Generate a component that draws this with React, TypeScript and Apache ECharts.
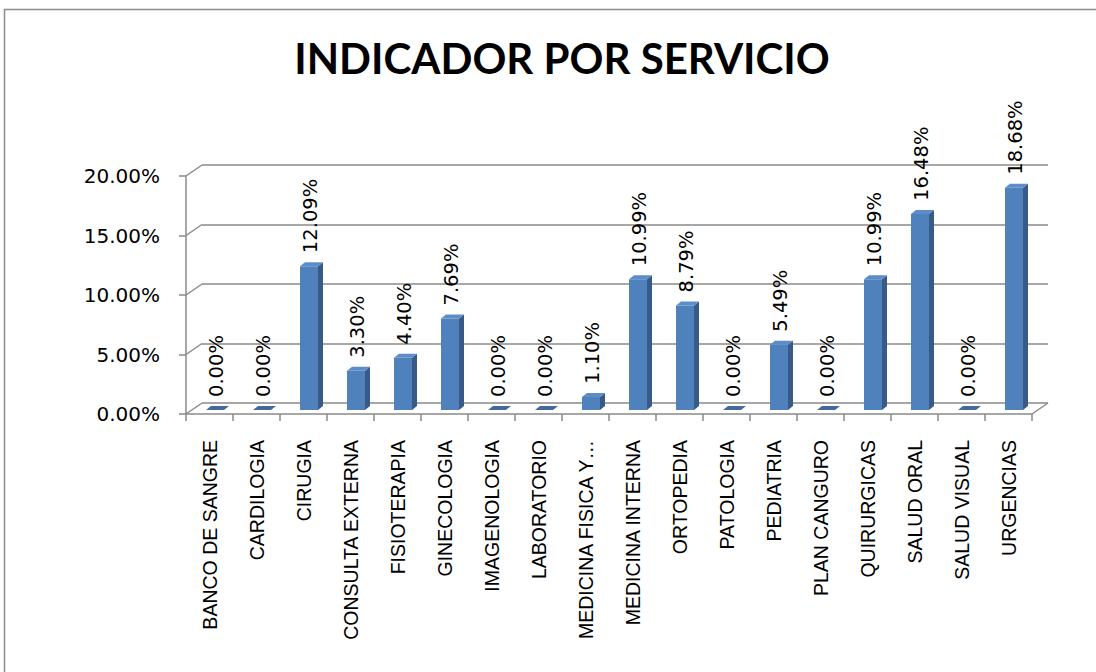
import React, { useEffect, useRef } from "react";
import * as echarts from "echarts";

const categories = [
  "BANCO DE SANGRE",
  "CARDILOGIA",
  "CIRUGIA",
  "CONSULTA EXTERNA",
  "FISIOTERAPIA",
  "GINECOLOGIA",
  "IMAGENOLOGIA",
  "LABORATORIO",
  "MEDICINA FISICA Y…",
  "MEDICINA INTERNA",
  "ORTOPEDIA",
  "PATOLOGIA",
  "PEDIATRIA",
  "PLAN CANGURO",
  "QUIRURGICAS",
  "SALUD ORAL",
  "SALUD VISUAL",
  "URGENCIAS",
];
const values = [0, 0, 12.09, 3.3, 4.4, 7.69, 0, 0, 1.1, 10.99, 8.79, 0, 5.49, 0, 10.99, 16.48, 0, 18.68];
const yTicks = [0, 5, 10, 15, 20];
const titleText = "INDICADOR POR SERVICIO";

const DX = 16;
const DY = 11;

export default function App() {
  const ref = useRef<HTMLDivElement>(null);
  useEffect(() => {
    const chart = echarts.init(ref.current!, null, { renderer: "svg" });
    const gridLeft = 186;
    const gridTop = 176;
    const gridW = 846;
    const gridH = 238;
    const axisColor = "#8a8a8a";
    const fmt = (v: number) => v.toFixed(2) + "%";
    chart.setOption({
      animation: false,
      backgroundColor: "#ffffff",
      graphic: [
        {
          type: "rect",
          shape: { x: 4.5, y: 9.5, width: 1200, height: 800 },
          style: { fill: "none", stroke: "#8c8c8c", lineWidth: 1.5 },
          silent: true,
        },
        {
          type: "text",
          x: 562,
          y: 58,
          style: {
            text: titleText,
            font: "bold 42px Lato, 'Liberation Sans Narrow', sans-serif",
            fill: "#000000",
            align: "center",
            verticalAlign: "middle",
          },
        },
      ],
      grid: [
        { left: gridLeft + DX, top: gridTop - DY, width: gridW, height: gridH },
        { left: gridLeft, top: gridTop, width: gridW, height: gridH },
      ],
      xAxis: [
        {
          type: "category",
          gridIndex: 0,
          data: categories,
          show: false,
        },
        {
          type: "category",
          gridIndex: 1,
          data: categories,
          boundaryGap: true,
          axisLine: { show: true, lineStyle: { color: axisColor, width: 1.5 } },
          axisTick: { show: true, length: 7, lineStyle: { color: axisColor, width: 1.5 } },
          axisLabel: {
            rotate: 90,
            interval: 0,
            margin: 26,
            color: "#000000",
            fontFamily: "'Liberation Sans', Arial, sans-serif",
            fontSize: 19.5,
            padding: [0, 0, 0, 0],
          },
          splitLine: { show: false },
        },
      ],
      yAxis: [
        {
          type: "value",
          gridIndex: 0,
          min: 0,
          max: 20,
          interval: 5,
          axisLine: { show: false },
          axisTick: { show: false },
          axisLabel: { show: false },
          splitLine: { show: true, lineStyle: { color: axisColor, width: 1.5 } },
        },
        {
          type: "value",
          gridIndex: 1,
          min: 0,
          max: 20,
          interval: 5,
          axisLine: { show: true, lineStyle: { color: axisColor, width: 1.5 } },
          axisTick: { show: true, length: 7, lineStyle: { color: axisColor, width: 1.5 } },
          axisLabel: {
            formatter: fmt,
            margin: 26,
            color: "#000000",
            fontFamily: "'DejaVu Sans', Verdana, sans-serif",
            fontSize: 20,
          },
          splitLine: { show: false },
        },
      ],
      series: [
        {
          type: "custom",
          xAxisIndex: 1,
          yAxisIndex: 1,
          data: yTicks.map((v) => [0, v]),
          silent: true,
          renderItem: (params: any, api: any) => {
            const v = api.value(1);
            const p = api.coord([0, v]);
            const half = api.size([1, 0])[0] / 2;
            const x0 = p[0] - half;
            const children: any[] = [
              {
                type: "line",
                shape: { x1: x0, y1: p[1], x2: x0 + DX, y2: p[1] - DY },
                style: { stroke: axisColor, lineWidth: 1.5 },
              },
            ];
            if (v === 0) {
              const pr = api.coord([categories.length - 1, 0]);
              const x1 = pr[0] + half;
              children.push({
                type: "line",
                shape: { x1: x1, y1: pr[1], x2: x1 + DX, y2: pr[1] - DY },
                style: { stroke: axisColor, lineWidth: 1.5 },
              });
            }
            return { type: "group", children };
          },
        },
        {
          type: "custom",
          xAxisIndex: 1,
          yAxisIndex: 1,
          data: values.map((v, i) => [i, v]),
          silent: true,
          z: 5,
          renderItem: (params: any, api: any) => {
            const v = api.value(1);
            const base = api.coord([api.value(0), 0]);
            const top = api.coord([api.value(0), v]);
            const cx = base[0] + 5.5;
            const bw = 18;
            const dx = 5;
            const dy = 4;
            const L = cx - bw / 2;
            const R = cx + bw / 2;
            const botY = base[1] - 4;
            const topY = top[1] - 4;
            const children: any[] = [];
            if (v > 0) {
              children.push({
                type: "polygon",
                shape: { points: [[R, topY], [R + dx, topY - dy], [R + dx, botY - dy], [R, botY]] },
                style: { fill: "#375a86" },
              });
              children.push({
                type: "rect",
                shape: { x: L, y: topY, width: bw, height: botY - topY },
                style: { fill: "#4f81bd" },
              });
              children.push({
                type: "polygon",
                shape: { points: [[L, topY], [L + dx, topY - dy], [R + dx, topY - dy], [R, topY]] },
                style: { fill: "#5d8dc8" },
              });
            } else {
              children.push({
                type: "polygon",
                shape: { points: [[L, topY], [L + dx, topY - dy], [R + dx, topY - dy], [R, topY]] },
                style: { fill: "#44699a" },
              });
            }
            children.push({
              type: "text",
              x: cx + 1,
              y: topY - 13,
              rotation: Math.PI / 2,
              style: {
                text: fmt(v),
                font: "19.5px 'DejaVu Sans', Verdana, sans-serif",
                fill: "#000000",
                align: "left",
                verticalAlign: "middle",
              },
            });
            return { type: "group", children };
          },
        },
      ],
    });
    return () => chart.dispose();
  }, []);
  return (
    <div
      ref={ref}
      style={{ position: "fixed", left: 0, top: 0, width: 1096, height: 672, background: "#fff" }}
    />
  );
}
